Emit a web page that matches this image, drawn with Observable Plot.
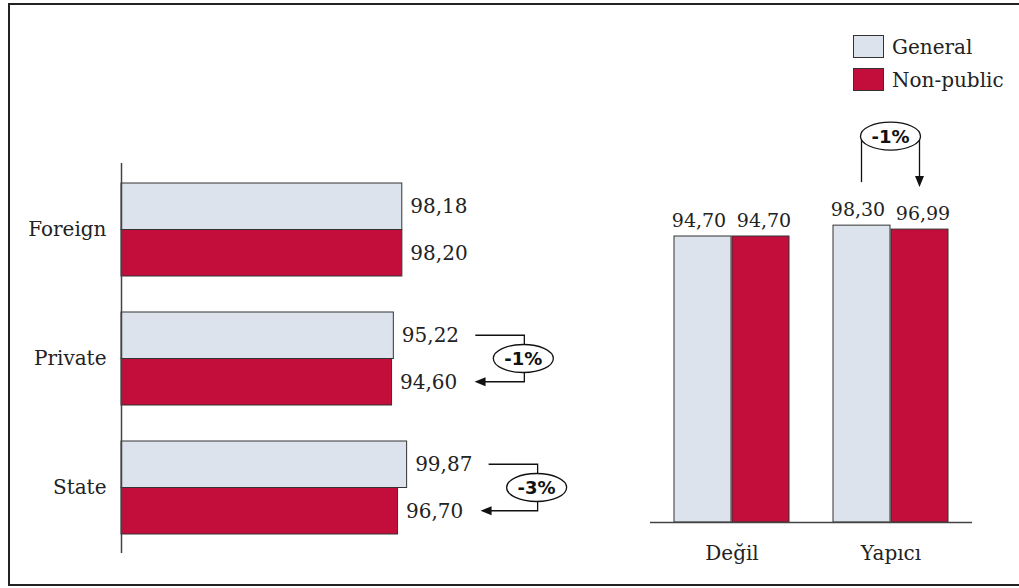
<!DOCTYPE html>
<html>
<head>
<meta charset="utf-8">
<script src="https://cdn.jsdelivr.net/npm/d3@7"></script>
<script src="https://cdn.jsdelivr.net/npm/@observablehq/plot@0.6"></script>
<style>
  html, body { margin: 0; padding: 0; background: #fff; overflow: hidden; }
  #chart { position: relative; width: 1019px; height: 588px; font-family: "DejaVu Serif", serif; color: #222; }
  #chart svg text { font-family: "DejaVu Serif", serif; }
  #frame { position: absolute; left: 8px; top: 3px; width: 1030px; height: 583px; box-sizing: border-box;
           border: 2px solid #222; border-right: none; }
  #left { position: absolute; left: 0; top: 0; }
  #right { position: absolute; left: 620px; top: 0; }
  #legend { position: absolute; left: 853px; top: 35px; font-family: "DejaVu Serif", serif; font-size: 20px; color: #222; }
  #legend .row { display: flex; align-items: center; height: 23px; margin-bottom: 10px; }
  #legend .sw { width: 31px; height: 23px; box-sizing: border-box; border: 1.5px solid #333; margin-right: 8px; }
</style>
</head>
<body>
<div id="chart">
  <div id="frame"></div>
  <div id="left"></div>
  <div id="right"></div>
  <div id="legend"></div>
</div>
<script>
// Series and their fills
const series = ["General", "Non-public"];
const colors = ["#dce3ed", "#c30d3b"];

// Left panel: by ownership
const ownership = ["Foreign", "Private", "State"];
const ownershipGeneral = [98.18, 95.22, 99.87];
const ownershipNonPublic = [98.20, 94.60, 96.70];
const ownershipNotes = ["Private", "State"];

// Right panel: by stance
const stance = ["Değil", "Yapıcı"];
const stanceGeneral = [94.70, 98.30];
const stanceNonPublic = [94.70, 96.99];
const stanceNotes = ["Yapıcı"];

const fmt = d3.formatLocale({decimal: ",", thousands: ".", grouping: [3], currency: ["", ""]}).format(".2f");
const pct = (g, n) => `${Math.round((n - g) / g * 100)}%`;

const leftRows = ownership.map((c, i) => ({category: c, general: ownershipGeneral[i], nonpublic: ownershipNonPublic[i]}));
const rightRows = stance.map((c, i) => ({category: c, general: stanceGeneral[i], nonpublic: stanceNonPublic[i]}));

const ink = "#111";

function arrowHead(g, tipX, tipY, dir) {
  // dir: "left" or "down"
  const L = 11, W = 4.5;
  const d = dir === "left"
    ? `M${tipX},${tipY}L${tipX + L},${tipY - W}L${tipX + L},${tipY + W}Z`
    : `M${tipX},${tipY}L${tipX - W},${tipY - L}L${tipX + W},${tipY - L}Z`;
  g.append("path").attr("d", d).attr("fill", ink).attr("stroke", "none");
}

function badge(g, cx, cy, label) {
  g.append("ellipse").attr("cx", cx).attr("cy", cy).attr("rx", 30).attr("ry", 14)
    .attr("fill", "#fff").attr("stroke", ink).attr("stroke-width", 1.3);
  g.append("text").attr("x", cx).attr("y", cy).attr("dy", "0.36em")
    .attr("text-anchor", "middle").attr("fill", ink).attr("stroke", "none")
    .style("font-family", "'DejaVu Sans', sans-serif").style("font-weight", "bold").style("font-size", "18px")
    .text(label);
}

// Bracket from the General label to the Non-public label, with the change in the middle
function ownershipBrackets(index, scales) {
  const {x, y} = scales;
  const bw = y.bandwidth ? y.bandwidth() : 93;
  const g = d3.create("svg:g").attr("fill", "none").attr("stroke", ink).attr("stroke-width", 1.3);
  for (const c of ownershipNotes) {
    const i = ownership.indexOf(c);
    const gx = x(ownershipGeneral[i]), nx = x(ownershipNonPublic[i]);
    const yG = y(c) + bw / 4, yN = y(c) + 3 * bw / 4, ym = (yG + yN) / 2;
    const xs = gx + 82, xb = Math.max(gx, nx) + 131, xt = nx + 83;
    g.append("path").attr("d", `M${xs},${yG}H${xb}V${ym}`);
    g.append("path").attr("d", `M${xb},${ym}V${yN}H${xt + 8}`);
    arrowHead(g, xt, yN, "left");
    badge(g, xb - 1, ym, pct(ownershipGeneral[i], ownershipNonPublic[i]));
  }
  return g.node();
}

function stanceBrackets(index, scales) {
  const {x, y} = scales;
  const bw = x.bandwidth ? x.bandwidth() : 116;
  const g = d3.create("svg:g").attr("fill", "none").attr("stroke", ink).attr("stroke-width", 1.3);
  for (const c of stanceNotes) {
    const i = stance.indexOf(c);
    const x0 = x(c), xc = x0 + bw / 2;
    const yg = y(stanceGeneral[i]), yn = y(stanceNonPublic[i]);
    const cy = Math.min(yg, yn) - 89;
    g.append("path").attr("d", `M${xc - 29},${cy}V${yg - 43}`);
    g.append("path").attr("d", `M${xc + 29},${cy}V${yn - 50}`);
    arrowHead(g, xc + 29, yn - 42, "down");
    badge(g, xc, cy, pct(stanceGeneral[i], stanceNonPublic[i]));
  }
  return g.node();
}

const baseStyle = {fontFamily: "DejaVu Serif, serif", fontSize: "20px", color: "#222", background: "transparent", overflow: "visible"};

const left = Plot.plot({
  width: 620, height: 588,
  marginTop: 163, marginBottom: 35, marginLeft: 121, marginRight: 213,
  style: baseStyle,
  x: {domain: [0, 100], axis: null},
  y: {domain: ownership, paddingInner: 0.2819, paddingOuter: 0.1468, label: null, tickSize: 0, tickPadding: 15},
  marks: [
    Plot.barX(leftRows, {x: "general", y: "category", fill: colors[0], stroke: "#333", strokeWidth: 1, insetBottom: 46.5}),
    Plot.barX(leftRows, {x: "nonpublic", y: "category", fill: colors[1], stroke: "#333", strokeWidth: 1, insetTop: 46.5}),
    Plot.ruleX([0], {stroke: "#444", strokeWidth: 1.5}),
    Plot.text(leftRows, {x: "general", y: "category", text: d => fmt(d.general), dx: 8, dy: -23.25, textAnchor: "start", fill: "#222"}),
    Plot.text(leftRows, {x: "nonpublic", y: "category", text: d => fmt(d.nonpublic), dx: 8, dy: 23.25, textAnchor: "start", fill: "#222"}),
    ownershipBrackets
  ]
});
document.getElementById("left").append(left);

const right = Plot.plot({
  width: 399, height: 588,
  marginTop: 220, marginBottom: 66, marginLeft: 30, marginRight: 47,
  style: baseStyle,
  x: {domain: stance, paddingInner: 0.275, paddingOuter: 0.144, label: null, tickSize: 0, tickPadding: 23},
  y: {domain: [0, 100], axis: null},
  marks: [
    Plot.barY(rightRows, {x: "category", y: "general", fill: colors[0], stroke: "#333", strokeWidth: 1, insetRight: 58}),
    Plot.barY(rightRows, {x: "category", y: "nonpublic", fill: colors[1], stroke: "#333", strokeWidth: 1, insetLeft: 58}),
    Plot.ruleY([0], {stroke: "#444", strokeWidth: 1.5}),
    Plot.text(rightRows, {x: "category", y: "general", text: d => fmt(d.general), dx: -33, dy: -16, fill: "#222", fontSize: 19}),
    Plot.text(rightRows, {x: "category", y: "nonpublic", text: d => fmt(d.nonpublic), dx: 32, dy: -16, fill: "#222", fontSize: 19}),
    stanceBrackets
  ]
});
document.getElementById("right").append(right);

// Legend
const legend = d3.select("#legend");
series.forEach((s, i) => {
  const row = legend.append("div").attr("class", "row");
  row.append("div").attr("class", "sw").style("background", colors[i]);
  row.append("span").text(s);
});
</script>
</body>
</html>
